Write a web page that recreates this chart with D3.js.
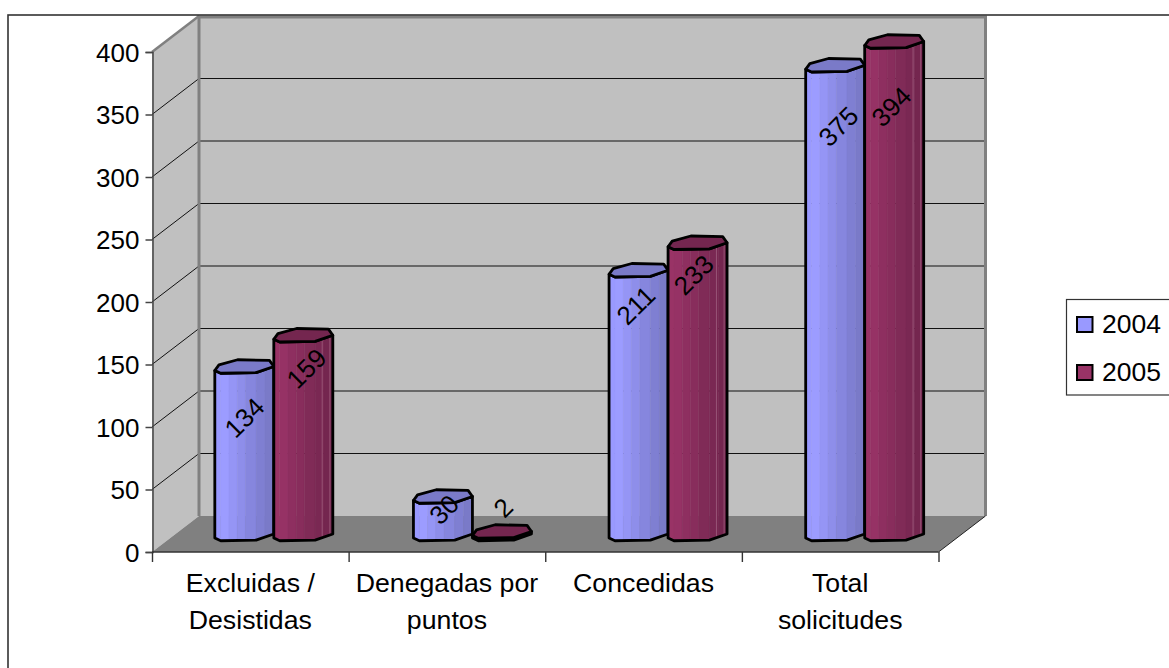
<!DOCTYPE html>
<html><head><meta charset="utf-8">
<script src="https://cdn.jsdelivr.net/npm/d3@7/dist/d3.min.js"></script>
<style>html,body{margin:0;padding:0;background:#fff;overflow:hidden}svg{display:block}text{font-family:"Liberation Sans",Arial,sans-serif;fill:#000}</style>
</head><body><svg id="c" width="1169" height="668"></svg>
<script>
const categories = [["Excluidas /","Desistidas"],["Denegadas por","puntos"],["Concedidas"],["Total","solicitudes"]];
const seriesNames = ["2004","2005"];
const values2004 = [134,30,211,375];
const values2005 = [159,2,233,394];
const yTicks = [0,50,100,150,200,250,300,350,400];

const labelShiftY = [[51,33],[13,-24],[35,32],[61,65]];
const labelShiftX = [[0,3],[3,3],[-2,-3],[4,-2]];
const barShiftX = [0,2,1,1];

const svg = d3.select("#c");
const X0=152,X1=938.5,Y0=552,Y1=52,DX=47,DY=-36;
const y = d3.scaleLinear().domain([0,400]).range([Y0,Y1]);
const xb = d3.scaleBand().domain(d3.range(4)).range([X0,X1]);
const BW=59;
const line=d3.line();
const poly=(pts,fill,stroke,sw)=>svg.append("path").attr("d",line(pts)+"Z").attr("fill",fill).attr("stroke",stroke||"none").attr("stroke-width",sw||0).attr("stroke-linejoin","round");

// walls
poly([[X0+DX,Y1+DY],[X1+DX,Y1+DY],[X1+DX,Y0+DY],[X0+DX,Y0+DY]],"#c0c0c0");
poly([[X0,Y1],[X0+DX,Y1+DY],[X0+DX,Y0+DY],[X0,Y0]],"#c0c0c0");
poly([[X0,Y0],[X0+DX,Y0+DY],[X1+DX,Y0+DY],[X1,Y0]],"#808080");
// gridlines
yTicks.slice(1,-1).forEach(t=>{
  const p=y(t);
  svg.append("line").attr("x1",X0+DX).attr("x2",X1+DX).attr("y1",p+DY).attr("y2",p+DY).attr("stroke","#111");
  svg.append("line").attr("x1",X0).attr("x2",X0+DX).attr("y1",p).attr("y2",p+DY).attr("stroke","#111");
});
svg.append("path").attr("d",line([[X0+DX,Y0+DY],[X0+DX,Y1+DY+1],[X1+DX,Y1+DY+1],[X1+DX,Y0+DY]])).attr("fill","none").attr("stroke","#808080").attr("stroke-width",3);
svg.append("line").attr("x1",X1).attr("y1",Y0).attr("x2",X1+DX).attr("y2",Y0+DY).attr("stroke","#222");
svg.append("line").attr("x1",X0).attr("y1",Y1).attr("x2",X0+DX).attr("y2",Y1+DY).attr("stroke","#808080").attr("stroke-width",2.5);

// outer chart border runs past the picture on the right and bottom
svg.append("rect").attr("x",8).attr("y",15).attr("width",1180).attr("height",680).attr("fill","none").attr("stroke","#333").attr("stroke-width",1.6);

// axes
const fontStack='"Liberation Sans",Arial,sans-serif';
const ax=svg.append("g").attr("transform",`translate(${X0+.5},0)`).call(d3.axisLeft(y).tickValues(yTicks).tickSize(7).tickPadding(6).tickFormat(d3.format("d")));
ax.selectAll("text").attr("font-size",26).style("font-family",fontStack).attr("dy","0.36em");
ax.selectAll("path,line").attr("stroke","#444").attr("stroke-width",1.5);
const xs=d3.scaleLinear().domain([0,4]).range([X0,X1]);
const axb=svg.append("g").attr("transform",`translate(0,${Y0})`).call(d3.axisBottom(xs).tickValues([0,1,2,3,4]).tickSize(10).tickFormat(""));
axb.selectAll("path,line").attr("stroke","#333").attr("stroke-width",1.4);
axb.select("path").attr("d",`M${X0},0H${X1}`);
categories.forEach((c,i)=>c.forEach((s,j)=>svg.append("text").attr("x",xb(i)+xb.bandwidth()/2).attr("y",592+j*37).attr("text-anchor","middle").attr("font-size",26.7).text(s)));

// bars
const topShape=[[0,.8],[.07,.375],[.386,0],[.926,.05],[1,.5],[.7,.95],[.1,1]];
const botShape=[[0,.8],[.1,1],[.7,.95],[1,.5]];
const H=13.5;
const slats=[0,.1,.24,.38,.52,.7,.85,1];
const palettes=[
 {top:"#7a7ac8",stops:["#9999ff","#9c9cff","#9595f5","#8e8eea","#8686de","#7f7fd2","#7a7ac8"]},
 {top:"#74264f",stops:["#993366","#963265","#8e2f60","#882d5c","#802b57","#7a2853","#74264f"]}
];
function bar(i,s,v){
  const left=xb(i)+xb.bandwidth()/2+DX/2+(s-1)*BW+barShiftX[i];
  const yt=y(v)+DY/2, yb=y(0)+DY/2;
  const P=palettes[s];
  const tp=(u,w,b)=>[left+u*BW,b-H/2+w*H];
  const sideY=(u)=>{
    for(let k=0;k<botShape.length-1;k++){const a=botShape[k],c=botShape[k+1];
      if(u>=a[0]&&u<=c[0]) return a[1]+(c[1]-a[1])*(u-a[0])/(c[0]-a[0]);}
    return .5;};
  slats.slice(0,-1).forEach((u,k)=>{
    const n=slats[k+1];
    poly([tp(u,sideY(u),yt),tp(n,sideY(n),yt),tp(n,sideY(n),yb),tp(u,sideY(u),yb)],P.stops[k],P.stops[k],.4);
  });
  if(s===1) [.82,.95].forEach(u=>svg.append("line").attr("x1",left+u*BW).attr("x2",left+u*BW).attr("y1",tp(u,sideY(u),yt)[1]).attr("y2",tp(u,sideY(u),yb)[1]).attr("stroke","#a0607f").attr("stroke-width",.8));
  const contour=[...botShape.map(p=>tp(p[0],p[1],yb)),...botShape.slice().reverse().map(p=>tp(p[0],p[1],yt))];
  poly(contour,"none","#000",2.8);
  poly(topShape.map(p=>tp(p[0],p[1],yt)),P.top,"#000",2.8);
}
[0,1,2,3].forEach(i=>{bar(i,0,values2004[i]);bar(i,1,values2005[i]);});
[0,1,2,3].forEach(i=>{
  [values2004[i],values2005[i]].forEach((v,s)=>{
    const cx=xb(i)+xb.bandwidth()/2+DX/2+(s-.5)*BW+labelShiftX[i][s];
    const cy=y(v)+DY/2+labelShiftY[i][s];
    svg.append("text").attr("transform",`translate(${cx},${cy}) rotate(-45)`).attr("text-anchor","middle").attr("dy","0.36em").attr("font-size",26).text(v);
  });
});

// legend
svg.append("rect").attr("x",1066.5).attr("y",299.5).attr("width",120).attr("height",95.5).attr("fill","#fff").attr("stroke","#333").attr("stroke-width",1.2);
seriesNames.forEach((n,i)=>{
  const yy=325+i*48;
  svg.append("rect").attr("x",1077).attr("y",yy-8).attr("width",15.5).attr("height",15).attr("fill",palettes[i].stops[0]).attr("stroke","#000").attr("stroke-width",2);
  svg.append("text").attr("x",1102).attr("y",yy+8).attr("font-size",26.5).text(n);
});
</script></body></html>
